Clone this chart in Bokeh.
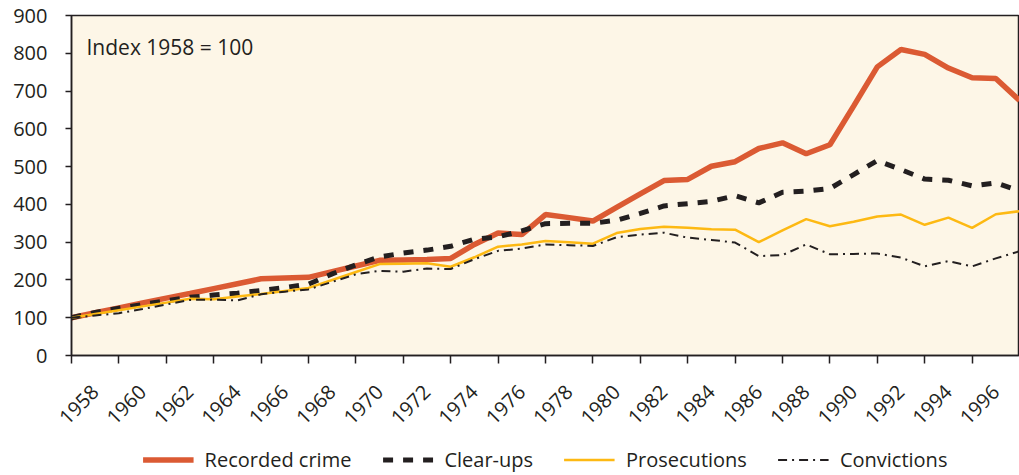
import math
from bokeh.plotting import figure
from bokeh.layouts import column
from bokeh.models import Range1d, FixedTicker, Legend, LegendItem, Label, LinearAxis
from bokeh.embed import file_html
from bokeh.resources import INLINE

years = list(range(1958, 1999))
recorded_crime = [100, 113, 126, 139, 152, 164, 177, 190, 203, 205, 207, 222, 237, 252, 253, 254,
                  257, 294, 324, 320, 373, 365, 356, 392, 428, 463, 466, 501, 513, 548, 563, 534,
                  558, 660, 764, 810, 797, 761, 735, 733, 675]
clear_ups = [100, 114, 125, 135, 145, 154, 160, 165, 172, 180, 189, 216, 240, 261, 271, 279,
             289, 308, 314, 330, 349, 350, 350, 358, 376, 396, 402, 408, 423, 404, 432, 435,
             442, 479, 516, 492, 467, 464, 449, 457, 436]
prosecutions = [100, 110, 120, 130, 140, 150, 149, 156, 163, 171, 179, 200, 221, 242, 243, 244,
                235, 260, 288, 294, 303, 300, 296, 324, 335, 341, 338, 334, 333, 300, 331, 361,
                342, 354, 368, 373, 346, 365, 338, 374, 382]
convictions = [100, 106, 112, 123, 135, 147, 148, 146, 162, 169, 175, 195, 215, 224, 222, 230,
               229, 255, 277, 283, 294, 292, 290, 313, 320, 325, 312, 306, 299, 263, 266, 294,
               268, 269, 270, 259, 236, 250, 236, 257, 276]
series_names = ["Recorded crime", "Clear-ups", "Prosecutions", "Convictions"]
x_tick_years = list(range(1958, 1997, 2))
y_ticks = list(range(0, 1000, 100))
note_text = "Index 1958 = 100"

INK = "#231f20"
FONT = "Open Sans"
LABEL_SHIFT = 1  # years: rotated labels sit to the right of their tick marks
STYLES = [dict(line_color="#DB5A33", line_width=5.5),
          dict(line_color=INK, line_width=5, line_dash="10 10"),
          dict(line_color="#FDB913", line_width=2.5),
          dict(line_color=INK, line_width=2, line_dash="9 5 2 5")]
SERIES = [recorded_crime, clear_ups, prosecutions, convictions]

p = figure(width=1019, height=443, output_backend="svg", toolbar_location=None,
           x_range=Range1d(1958, 1998), y_range=Range1d(0, 900), x_axis_location=None,
           min_border_left=71, min_border_right=0, min_border_top=15, min_border_bottom=88)
p.extra_x_ranges = {"labels": Range1d(1958 - LABEL_SHIFT, 1998 - LABEL_SHIFT)}
p.background_fill_color = "#FDF6E7"
p.border_fill_color = "white"
p.outline_line_color = INK
p.outline_line_width = 1.5
p.grid.visible = False

yax = p.yaxis[0]
yax.axis_line_color = INK
yax.axis_line_width = 1.5
yax.major_tick_line_color = INK
yax.major_tick_line_width = 1.5
yax.major_tick_in = 0
yax.major_tick_out = 6
yax.minor_tick_line_color = None
yax.major_label_text_color = INK
yax.major_label_text_font = FONT
yax.major_label_text_font_size = "20px"
yax.major_label_standoff = 18
yax.ticker = FixedTicker(ticks=y_ticks)

# visible tick marks (minor ticks) sit exactly on the years; labels are shifted
xax = LinearAxis(x_range_name="labels",
                 ticker=FixedTicker(ticks=x_tick_years,
                                    minor_ticks=[t - LABEL_SHIFT for t in x_tick_years]),
                 axis_line_color=INK, axis_line_width=1.5,
                 major_tick_line_color=None, major_tick_in=0, major_tick_out=0,
                 minor_tick_line_color=INK, minor_tick_line_width=1.5,
                 minor_tick_in=0, minor_tick_out=8,
                 major_label_standoff=25, major_label_orientation=math.pi / 4,
                 major_label_text_font=FONT, major_label_text_font_size="20px",
                 major_label_text_color=INK)
p.add_layout(xax, "below")

for vals, st in zip(SERIES, STYLES):
    p.line(years, vals, **st)

p.add_layout(Label(x=15, y=309, x_units="screen", y_units="screen", text=note_text,
                   text_font=FONT, text_font_size="21px", text_color=INK,
                   text_baseline="alphabetic"))

# legend strip below the chart (its lines lie outside this strip's view)
lg = figure(width=1019, height=32, output_backend="svg", toolbar_location=None,
            x_range=Range1d(0, 1), y_range=Range1d(0, 1),
            x_axis_location=None, y_axis_location=None,
            min_border_left=0, min_border_right=0, min_border_top=0, min_border_bottom=0)
lg.outline_line_color = None
lg.grid.visible = False
items = []
for name, vals, st in zip(series_names, SERIES, STYLES):
    r = lg.line(years, vals, **st)
    items.append(LegendItem(label=name, renderers=[r]))
legend = Legend(items=items, location="center", orientation="horizontal",
                glyph_width=51, glyph_height=20, label_standoff=11, spacing=31,
                padding=0, margin=0, border_line_color=None, background_fill_alpha=0,
                label_text_font=FONT, label_text_font_size="20px", label_text_color=INK)
lg.add_layout(legend)

open("out.html", "w").write(file_html(column(p, lg, spacing=0), INLINE))
